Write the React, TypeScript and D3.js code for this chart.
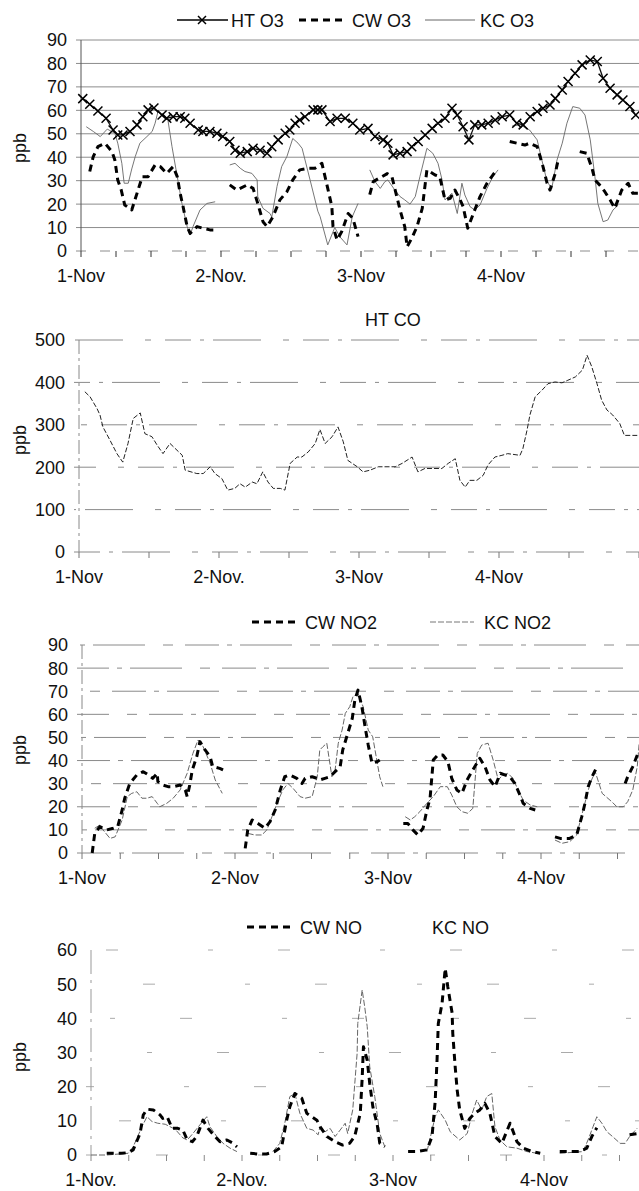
import React from 'react';
import * as d3 from 'd3';

type Pt = [number, number] | null;

// ---------- tick labels ----------
const o3Days = ['1-Nov', '2-Nov.', '3-Nov', '4-Nov'];
const coDays = ['1-Nov', '2-Nov.', '3-Nov', '4-Nov'];
const no2Days = ['1-Nov', '2-Nov', '3-Nov', '4-Nov'];
const noDays = ['1-Nov.', '2-Nov.', '3-Nov', '4-Nov'];
const o3Ticks = [0, 10, 20, 30, 40, 50, 60, 70, 80, 90];
const coTicks = [0, 100, 200, 300, 400, 500];
const no2Ticks = [0, 10, 20, 30, 40, 50, 60, 70, 80, 90];
const noTicks = [0, 10, 20, 30, 40, 50, 60];

// ---------- series: [hour since 1-Nov 00:00, ppb]; null = gap ----------
const htO3: Pt[] = [[0.3,65],[1.5,62.6],[2.9,59.7],[4.3,56.6],[5.5,51.6],[6.3,49.5],[7.2,49.5],[8.4,51],[9.6,53.8],[10.6,57.3],[11.5,60.2],[12.5,61],[13.9,58],[14.7,56.6],[15.8,57.3],[17.0,57.3],[17.8,56.6],[18.7,54.5],[20.1,51.6],[20.9,51],[22.1,51],[23.3,50.2],[24.3,48.8],[25.5,46.7],[26.4,43],[27.3,41.7],[28.5,42.4],[29.5,43.8],[30.7,43],[31.9,41.7],[32.7,44.5],[33.8,47.4],[35.0,50.2],[35.8,51.6],[36.7,54.5],[37.5,55.9],[38.4,57.3],[39.8,60.2],[40.6,60.2],[41.3,60.2],[42.7,55.2],[43.9,56.6],[45.3,56.6],[46.6,54.5],[47.8,51.6],[49.2,52.3],[50.4,48.8],[51.8,47.4],[52.6,46],[53.5,41],[54.7,41.7],[55.9,42.4],[56.7,44.5],[57.8,46.7],[59.0,49.5],[60.2,52.3],[61.2,54.5],[62.4,56.6],[63.6,60.9],[64.5,58],[65.5,53],[66.5,47.4],[67.5,53.8],[68.7,53.8],[69.8,54.5],[71.0,55.9],[72.2,57.3],[73.5,58],[74.7,54.5],[75.8,53.8],[77.0,57.3],[78.2,59.5],[79.2,60.9],[80.4,62.3],[81.3,65.1],[82.5,68.7],[83.5,72.3],[84.7,75.8],[85.9,79.4],[87.3,81.5],[88.5,80.8],[89.5,73.7],[90.7,69.4],[91.9,66.6],[92.9,64.4],[94.1,61.6],[95.1,58]];

const cwO3: Pt[] = [[1.5,33.9],[2.1,40.3],[2.9,44.5],[4.1,46],[5.3,42.4],[5.8,38.8],[6.3,30.3],[6.9,26],[7.5,19.6],[8.7,17.5],[9.6,24.6],[10.5,31.7],[11.5,31.7],[12.7,36.7],[13.6,36],[14.7,33.1],[15.8,36],[16.5,31.7],[17.0,24.6],[17.5,18.9],[18.2,10.4],[18.7,7.5],[19.9,10.4],[20.9,9.7],[22.1,9],[23.3,9], null,
  [25.5,28.2],[26.7,26],[28.5,28.2],[29.5,26.7],[30.3,20.3],[31.2,12.5],[31.9,10.4],[32.9,14.6],[34.1,21.8],[35.3,25.3],[36.3,30.3],[37.5,34.6],[38.9,35.3],[40.1,35.3],[41.3,37.4],[42.3,26.7],[43.0,19],[43.2,10.4],[43.9,4.7],[44.7,8.3],[45.8,16],[46.6,14],[47.5,6.1], null,
  [49.5,24],[50.1,29.6],[52.5,33],[53.3,31.7],[54.7,17.5],[55.5,10.4],[55.9,1.8],[56.7,5.4],[57.6,10.4],[58.5,18.2],[59.3,34.6],[60.7,32.4],[61.5,31.7],[62.4,21.8],[63.3,22.5],[64.1,26],[65.0,21.8],[65.5,19],[66.3,9.7],[67.5,17.5],[68.4,23.2],[69.6,28.9],[70.6,32.4],[71.3,34.6], null,
  [73.5,46.7],[74.7,46],[76.1,45.2],[76.9,46],[78.2,44.5],[78.7,40.3],[79.2,36],[79.9,28.9],[80.4,26],[81.3,33.1],[81.8,38.8], null,
  [85.5,42.4],[86.7,41.7],[87.6,35.3],[88.1,30.3],[88.9,28.2],[89.8,25.3],[90.7,21.8],[91.5,18.2],[92.7,26],[93.8,28.9],[94.6,24.6],[95.5,24.6]];

const kcO3: Pt[] = [[0.9,53],[2.1,51],[3.3,48.8],[4.5,52],[5.8,50.2],[6.3,46],[7.0,37.4],[7.4,28.9],[8.1,28.9],[8.7,35],[9.3,40.3],[10.1,46],[11.3,48.8],[12.2,51],[12.7,54.5],[13.2,59.5],[14.1,57],[14.9,55.9],[15.6,44.5],[16.5,31.7],[17.3,20.3],[18.2,10.4],[18.7,6.8],[19.2,10.4],[20.4,17.5],[21.6,20.3],[23.0,21], null,
  [25.5,36.7],[26.4,37.4],[27.3,35.3],[28.1,33.9],[29.3,33.1],[30.2,30.3],[30.3,23.2],[31.2,18.2],[32.4,16],[32.7,14.5],[33.6,27.5],[34.4,36],[35.3,40.3],[36.3,48],[37.2,46],[37.9,43.8],[39.3,30],[40.6,17],[41.0,14.6],[42.3,2.6],[43.5,10],[44.4,6],[45.6,2.6],[46.5,14.6],[47.5,20.3], null,
  [49.5,34.6],[50.4,29.6],[51.3,26.7],[52.1,29.6],[52.6,30.3],[53.8,26],[54.7,23.2],[55.5,21.8],[56.4,20],[57.3,23.2],[58.1,31.7],[59.3,43.8],[60.3,41.7],[61.2,37.4],[61.9,30.3],[62.4,21.8],[63.6,24.6],[64.5,16],[65.3,28.9],[65.8,23.9],[66.7,18.9],[67.5,17.5],[68.4,19.6],[69.6,26.7],[70.6,31.7],[71.5,34.6], null,
  [73.9,53.3],[75.3,53.8],[76.9,51.6],[78.2,47.4],[79.0,38.8],[79.9,29.6],[80.7,26.7],[81.6,38.8],[82.5,46],[83.3,54.5],[84.3,61.6],[85.5,60.9],[86.4,58],[87.3,47.4],[88.1,31.7],[88.6,20.3],[89.5,12.5],[90.3,13.2],[91.2,17.5],[92.1,19.6]];

const htCO: Pt[] = [[1.0,378],[1.9,366],[3.1,338],[3.6,323],[4.1,295],[5.3,264],[6.5,232],[7.5,212],[8.4,256],[9.3,315],[10.5,328],[11.3,279],[12.5,272],[13.4,252],[14.4,232],[15.6,256],[16.8,240],[17.7,228],[18.2,193],[20.2,185],[21.3,185],[22.5,201],[23.3,185],[24.5,173],[25.5,146],[26.7,150],[27.6,161],[28.5,153],[29.7,165],[30.5,161],[31.5,189],[32.4,165],[33.3,150],[34.5,150],[35.3,146],[36.2,209],[37.4,224],[38.2,224],[39.3,236],[40.5,256],[41.3,289],[42.2,256],[43.4,272],[44.4,295],[45.3,260],[46.1,216],[47.7,201],[48.7,189],[49.9,193],[51.3,201],[52.8,201],[54.2,201],[55.4,209],[57.1,224],[58.1,189],[59.3,197],[60.7,197],[62.2,197],[63.3,209],[64.5,220],[65.3,169],[66.2,153],[67.0,169],[68.2,169],[69.3,181],[70.1,205],[71.3,224],[72.5,228],[73.5,232],[75.6,228],[76.1,244],[76.8,287],[77.3,323],[78.2,366],[79.4,382],[80.4,397],[81.6,401],[82.8,399],[83.8,405],[85.1,413],[86.3,429],[87.1,464],[87.9,437],[88.8,397],[89.6,358],[90.5,335],[91.5,323],[92.7,303],[93.5,275],[94.9,275],[95.8,275]];

const cwNO2: Pt[] = [[1.6,0],[2.0,8.5],[2.8,11.4],[3.9,10],[4.9,10.7],[5.6,11.4],[6.3,18.6],[6.7,23.7],[7.5,30.1],[8.6,33.8],[9.6,35.2],[10.4,33.8],[11.1,32.3],[11.8,34.5],[11.9,30.9],[12.7,29.4],[13.5,28.7],[14.3,28.7],[15.4,29.4],[16.2,27.3],[16.5,24.4],[16.9,29.4],[17.3,35.9],[18.0,41.7],[18.5,48.2],[19.3,44.6],[20.1,41.7],[20.5,37.4],[21.6,36.6],[22.7,35.2], null,
  [25.6,2],[26.0,10],[26.7,14.3],[27.6,12.8],[28.7,10.7],[29.5,13.6],[30.3,18.6],[31.1,27.3],[31.8,33],[32.6,33.8],[33.7,32.3],[34.5,30.1],[35.0,32.3],[36.1,33],[36.9,32.3],[37.3,31.6],[38.1,32.3],[38.9,33],[39.7,35.2],[40.5,37.4],[40.9,44.6],[41.6,51],[42.4,58.3],[42.8,66.2],[43.3,70.5],[43.9,63.3],[44.4,54.7],[44.9,46.7],[45.5,38.8],[46.3,39.5],[46.7,40.2], null,
  [50.4,12.8],[51.1,12.8],[51.9,10],[52.7,7.8],[53.5,10.7],[54.1,18.6],[54.6,23.7],[55.1,40.2],[55.8,42.4],[56.6,42.4],[57.4,39.5],[58.0,32.3],[58.8,27.3],[59.6,25.8],[60.4,31.6],[61.3,35.9],[62.4,41],[63.2,37.4],[64.0,31.6],[64.8,28.7],[65.6,34.5],[67.1,33],[67.9,30.1],[68.7,25.1],[69.2,21.5],[70.3,19.3],[71.1,18.6], null,
  [74.2,7],[75.0,6.3],[76.5,6.3],[77.6,7.8],[78.4,15.7],[78.9,21.5],[79.4,28.7],[80.0,33],[80.8,37.4], null,
  [85.2,30.1],[85.6,33],[86.4,37.4],[87.2,43.1]];

const kcNO2: Pt[] = [[2.0,10.7],[2.8,12.1],[3.3,10],[4.4,6.3],[5.2,7],[6.3,14.3],[7.1,24.4],[7.8,25.8],[8.6,26.5],[9.4,23.7],[10.2,23.7],[11.0,24.4],[11.8,21.5],[12.2,20],[13.3,21.5],[14.3,23.7],[15.4,27.3],[16.5,34.5],[17.4,43.1],[18.2,48.9],[19.0,46],[20.1,38.8],[20.9,31.6],[22.0,25.8], null,
  [26.0,8.5],[27.1,7.8],[28.2,7.8],[29.0,10],[29.8,15.7],[30.6,21.5],[31.5,27.3],[32.3,30.1],[33.1,28],[34.2,24.4],[35.0,23.7],[36.1,24.4],[36.9,33],[37.3,44.6],[37.8,46],[38.4,47.5],[39.2,33],[39.7,35.9],[40.2,47.5],[40.8,53.2],[41.3,60.4],[42.0,63.3],[42.5,67.6],[43.3,69.1],[44.1,63.3],[44.9,53.2],[45.6,50.3],[46.7,33],[47.2,28.7], null,
  [50.7,15.7],[51.5,14.3],[52.2,15.7],[53.0,17.9],[54.1,21.5],[55.1,24.4],[56.2,28.7],[57.3,28.7],[58.0,25.1],[58.8,20],[59.6,17.9],[60.5,17.2],[61.3,19.3],[62.0,43.1],[62.7,46.7],[63.7,47.5],[64.5,40.2],[65.3,31.6],[66.0,33.8],[66.8,34.5],[67.6,32.3],[68.4,27.3],[69.2,22.9],[70.3,20.8],[71.4,20], null,
  [74.2,5.6],[75.3,4.2],[76.5,4.9],[77.6,7.8],[78.6,18.6],[79.7,30.1],[80.5,35.2],[81.6,25.8],[83.1,22.2],[83.9,20],[84.9,20],[85.6,22.2],[86.4,27.3],[87.1,37.4],[87.4,47.5]];

const cwNO: Pt[] = [[2.5,0.5],[3.8,0.5],[4.9,0.5],[5.9,0.7],[6.7,1.5],[7.8,6.3],[8.3,11.7],[8.9,13.4],[9.9,13.2],[11.0,11.7],[11.4,10.7],[12.1,11.2],[12.9,7.8],[13.8,7.8],[14.6,7.3],[15.3,4.4],[16.1,3.9],[16.8,5.4],[17.3,7.8],[17.8,10.2],[18.6,7.8],[19.7,5.4],[20.5,3.9],[21.6,4.4],[22.6,3.4],[23.2,2.4], null,
  [25.3,0.5],[26.5,0.3],[27.9,0.3],[29.2,1],[30.3,2.4],[31.1,10.2],[31.6,14.1],[32.4,18],[33.5,16.6],[34.3,12.2],[35.1,11.2],[35.9,10.2],[36.4,8.3],[37.5,5.4],[38.8,3.9],[40.0,2.9],[41.1,3.4],[41.9,5.4],[42.8,12.2],[43.1,22.4],[43.3,31.7],[43.9,27.8],[44.3,21],[44.8,14.1],[45.5,8.8],[45.9,3.4],[46.7,2.4], null,
  [50.4,1],[51.8,1],[53.4,1.5],[54.2,5.4],[54.7,15.6],[55.0,27.8],[55.2,38.5],[55.8,44.4],[56.3,54.6],[56.7,49.3],[57.4,41.5],[57.5,35.6],[57.9,25.4],[58.2,19],[58.6,13.2],[59.4,7.8],[60.2,10.7],[61.0,12.2],[61.8,13.2],[62.6,15.1],[63.4,12.2],[64.2,5.4],[65.3,3.4],[66.6,9.3],[67.7,3.9],[68.7,2],[70.1,1],[71.4,0.5], null,
  [74.5,1],[76.1,1],[77.7,1],[78.8,2],[79.6,5.4],[80.4,8], null,
  [85.6,5.9],[86.9,6.3]];

const kcNO: Pt[] = [[0,0],[2.5,0],[5.9,0.5],[6.7,2.4],[7.3,4.9],[8.1,8.3],[8.9,11.2],[9.7,9.8],[10.6,9.3],[11.8,9],[13.4,7.5],[14.6,5],[15.3,4.4],[16.2,6.3],[17.3,8.8],[18.4,11.2],[18.9,8.3],[20.0,5.4],[21.0,3.4],[22.1,2],[23.2,1], null,
  [28.9,1],[30.0,3.4],[30.8,9.3],[31.6,17.1],[32.4,18],[33.2,12.2],[34.3,7.8],[35.3,7.3],[36.1,5.9],[36.4,8.3],[37.2,6.8],[38.0,7.8],[38.8,5.4],[39.6,7.3],[40.4,9.3],[40.8,6.3],[41.6,13.2],[42.3,29.8],[42.4,38.5],[43.1,48.3],[43.5,43.4],[43.9,37.6],[44.3,25.9],[45.1,17.1],[45.9,6.3],[46.7,2.4], null,
  [53.4,1],[53.9,4.9],[54.7,11.2],[55.2,13.2],[56.3,10.2],[57.1,6.8],[58.6,4.4],[59.8,6.3],[60.6,12.2],[61.3,16.1],[62.1,13.2],[62.9,17.1],[63.7,18],[64.2,8.3],[65.0,4.4],[66.1,2.4],[67.7,2],[69.3,1],[70.9,0.5], null,
  [74.5,0.5],[78.2,1],[79.0,4.4],[79.8,8.3],[80.4,11.2],[81.2,9.3],[82.0,6.8],[82.9,5.4],[84.1,3.4],[84.9,3.4],[85.6,5.4],[86.8,7.8]];

// ---------- styles ----------
const FONT = "'Liberation Sans', Arial, Helvetica, sans-serif";
const TICK_FS = 18;
const LEG_FS = 18;

type SeriesStyle = { data: Pt[]; stroke: string; width: number; dash?: string; markers?: boolean };

type PanelCfg = {
  x0: number; x1: number; yBottom: number; yTop: number; yMax: number;
  yTicks: number[]; tickHours: number; days: string[];
  gridDash: string; gridColor: string; axisDash: string; axisColor: string; tickColor: string;
  ppbY: number; series: SeriesStyle[];
};

const blackDash = '7,5';

const panels: PanelCfg[] = [
  {
    x0: 81, x1: 641, yBottom: 251, yTop: 40, yMax: 90, yTicks: o3Ticks, tickHours: 6, days: o3Days,
    gridDash: '', gridColor: '#8c8c8c', axisDash: '', axisColor: '#555', tickColor: '#333', ppbY: 148,
    series: [
      { data: kcO3, stroke: '#666', width: 0.9 },
      { data: cwO3, stroke: '#000', width: 3, dash: blackDash },
      { data: htO3, stroke: '#111', width: 1.3, markers: true },
    ],
  },
  {
    x0: 79, x1: 639, yBottom: 552, yTop: 340, yMax: 500, yTicks: coTicks, tickHours: 12, days: coDays,
    gridDash: '26,9,4,9,48,22,6,14', gridColor: '#8a8a8a', axisDash: '14,4,3,4', axisColor: '#888', tickColor: '#777', ppbY: 440,
    series: [{ data: htCO, stroke: '#222', width: 1, dash: '5,2' }],
  },
  {
    x0: 82, x1: 694, yBottom: 853, yTop: 645, yMax: 90, yTicks: no2Ticks, tickHours: 6, days: no2Days,
    gridDash: '34,8,5,8,52,18,10,12', gridColor: '#8a8a8a', axisDash: '14,4,3,4', axisColor: '#888', tickColor: '#777', ppbY: 750,
    series: [
      { data: kcNO2, stroke: '#666', width: 1, dash: '6,2' },
      { data: cwNO2, stroke: '#000', width: 3, dash: blackDash },
    ],
  },
  {
    x0: 91, x1: 695, yBottom: 1155, yTop: 950, yMax: 60, yTicks: noTicks, tickHours: 6, days: noDays,
    gridDash: '5,65,12,90', gridColor: '#aaa', axisDash: '24,6,3,6', axisColor: '#999', tickColor: '#888', ppbY: 1057,
    series: [
      { data: kcNO, stroke: '#666', width: 1, dash: '6,2' },
      { data: cwNO, stroke: '#000', width: 3, dash: blackDash },
    ],
  },
];

function Panel({ cfg }: { cfg: PanelCfg }) {
  const x = d3.scaleLinear().domain([0, 96]).range([cfg.x0, cfg.x1]);
  const y = d3.scaleLinear().domain([0, cfg.yMax]).range([cfg.yBottom, cfg.yTop]);
  const line = d3.line<Pt>()
    .defined((d) => d != null)
    .x((d) => x((d as [number, number])[0]))
    .y((d) => y((d as [number, number])[1]));
  const tickHours = d3.range(0, 96.01, cfg.tickHours).filter((h) => x(h) <= 640);
  const plotRight = Math.min(cfg.x1, 639);
  return (
    <g>
      {cfg.yTicks.map((t, i) => (
        <line key={'g' + t} x1={cfg.x0 - 5} x2={plotRight} y1={y(t)} y2={y(t)}
          stroke={cfg.gridColor} strokeWidth={1}
          strokeDasharray={t === 0 && cfg.gridDash === '' ? '10,14' : cfg.gridDash || undefined}
          strokeDashoffset={i * 37} />
      ))}
      <line x1={cfg.x0} x2={cfg.x0} y1={cfg.yTop} y2={cfg.yBottom} stroke={cfg.axisColor} strokeWidth={1}
        strokeDasharray={cfg.axisDash || undefined} />
      {tickHours.map((h) => (
        <line key={'t' + h} x1={x(h)} x2={x(h)} y1={cfg.yBottom} y2={cfg.yBottom + 6} stroke={cfg.tickColor} strokeWidth={1} />
      ))}
      {cfg.yTicks.map((t) => (
        <text key={'yl' + t} x={cfg.x0 - 14} y={y(t)} dy="0.36em" textAnchor="end" fontSize={TICK_FS} fontFamily={FONT} fill="#111">{t}</text>
      ))}
      {cfg.days.map((d, i) => (
        <text key={'xl' + d} x={x(i * 24)} y={cfg.yBottom + 31} textAnchor="middle" fontSize={TICK_FS} fontFamily={FONT} fill="#111">{d}</text>
      ))}
      <text transform={`translate(26,${cfg.ppbY}) rotate(-90)`} textAnchor="middle" fontSize={TICK_FS} fontFamily={FONT} fill="#111">ppb</text>
      {cfg.series.map((s, i) => (
        <path key={'s' + i} d={line(s.data) || ''} fill="none" stroke={s.stroke} strokeWidth={s.width}
          strokeDasharray={s.dash} strokeLinejoin="round" />
      ))}
      {cfg.series.filter((s) => s.markers).map((s, i) => (
        <g key={'m' + i}>
          {s.data.filter((d): d is [number, number] => d != null).map((d, j) => {
            const cx = x(d[0]); const cy = y(d[1]); const r = 4.5;
            return (
              <path key={j} d={`M${cx - r},${cy - r}L${cx + r},${cy + r}M${cx - r},${cy + r}L${cx + r},${cy - r}`}
                stroke="#000" strokeWidth={1.5} fill="none" />
            );
          })}
        </g>
      ))}
    </g>
  );
}

function Legend() {
  const t = { fontSize: LEG_FS, fontFamily: FONT, fill: '#111' } as const;
  return (
    <g>
      <line x1={177} x2={228} y1={20} y2={20} stroke="#000" strokeWidth={1.3} />
      <path d="M198,16L206,24M198,24L206,16" stroke="#000" strokeWidth={1.5} />
      <text x={231} y={26.5} {...t}>HT O3</text>
      <line x1={299} x2={346} y1={20} y2={20} stroke="#000" strokeWidth={3} strokeDasharray={blackDash} />
      <text x={352} y={26.5} {...t}>CW O3</text>
      <line x1={425} x2={475} y1={20} y2={20} stroke="#666" strokeWidth={1} />
      <text x={480} y={26.5} {...t}>KC O3</text>
      <text x={365} y={325.5} {...t}>HT CO</text>
      <line x1={252} x2={296} y1={622} y2={622} stroke="#000" strokeWidth={3} strokeDasharray={blackDash} />
      <text x={305} y={628.5} {...t}>CW NO2</text>
      <line x1={430} x2={474} y1={622} y2={622} stroke="#777" strokeWidth={1} strokeDasharray="6,2" />
      <text x={484} y={628.5} {...t}>KC NO2</text>
      <line x1={247} x2={291} y1={927} y2={927} stroke="#000" strokeWidth={3} strokeDasharray={blackDash} />
      <text x={300} y={933.5} {...t}>CW NO</text>
      <text x={432} y={933.5} {...t}>KC NO</text>
    </g>
  );
}

export default function App() {
  return (
    <svg width={639} height={1191} viewBox="0 0 639 1191"
      style={{ position: 'absolute', left: 0, top: 0, background: '#fff' }}>
      <rect width={639} height={1191} fill="#fff" />
      {panels.map((p, i) => <Panel key={i} cfg={p} />)}
      <Legend />
    </svg>
  );
}
